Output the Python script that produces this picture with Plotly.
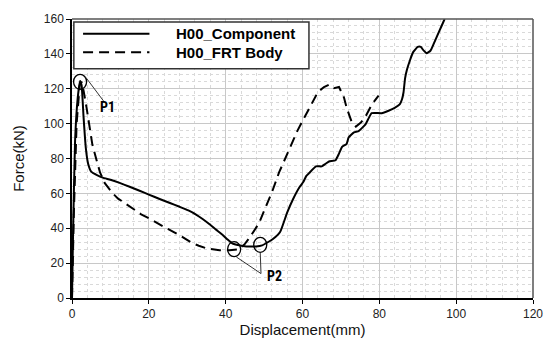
import plotly.graph_objects as go

# ---------------- data ----------------
comp_x = [0, 0.3, 0.8, 1.5, 2.1, 2.5, 3.0, 3.6, 4.2, 5, 6.5, 8, 10, 12.4, 15, 17.6, 20, 22.8, 25.5, 28,
          30.3, 32.4, 34, 35.8, 37.5, 39.1, 40.5, 41.7, 43.5, 45.4, 47.9, 49.5, 51.3, 52.3, 54.2, 56,
          57.5, 59.2, 60.2, 61, 61.7, 63.5, 65, 66, 66.9, 68.6, 69.5, 70.3, 71.5, 72, 73.4, 74.6, 76.4,
          77.2, 78, 80.6, 82.4, 84, 85.3, 85.9, 86.3, 86.7, 87.2, 88, 88.8, 90, 90.8, 91.5, 92.3, 93.3,
          94.2, 95, 96.2, 97]
comp_y = [0, 40, 90, 115, 124.5, 122, 104, 86, 77, 72.5, 70.5, 69, 67.8, 66, 63.8, 61.5, 59.3, 56.8,
          54.5, 52.3, 50.2, 47.7, 45.3, 42.3, 39.2, 36.4, 33.5, 31.3, 30.2, 29.6, 29.6, 30.2, 32.4,
          33.8, 38, 49, 56.5, 63.5, 66.5, 70, 71.6, 75.5, 75.5, 77, 78.3, 79, 82.8, 86.7, 88.4, 92,
          95, 95.7, 99.6, 103, 106, 106, 107.4, 109, 111, 114, 118, 126, 131, 136.5, 141, 144, 144,
          142, 140.4, 141.8, 146, 150, 156, 160]

body_x = [0, 0.5, 1.2, 2.0, 2.5, 3.0, 3.8, 4.5, 5.3, 6.4, 7.3, 8.5, 10.6, 12, 13.3, 15.9, 18, 20.2,
          22.5, 24.6, 28, 31.4, 33, 35, 38.4, 41, 43.5, 45, 46.2, 47.5, 48.7, 50, 51.2, 52.1, 53.9,
          55.7, 57.3, 58.7, 60, 61.7, 63.5, 64.5, 65.6, 66.9, 67.6, 68.2, 69.5, 70.2, 70.8, 71.5,
          72.2, 72.8, 73.9, 75.2, 76.4, 78, 79.8]
body_y = [0, 50, 100, 122, 124, 119, 109, 98, 88, 79, 72, 66, 60, 57, 55, 51, 48, 45.5, 42.5, 40, 36,
          31.3, 30, 28.5, 27.4, 27.4, 28, 31, 34.5, 39, 43, 50, 56, 61, 72, 81, 90, 96, 101.5, 109,
          116, 119, 121, 122.3, 121, 120.3, 121, 118, 115, 109, 104.5, 101, 98.3, 100.6, 104, 110.8,
          116]

series_names = ["H00_Component", "H00_FRT Body"]

p1_point = (2.1, 124)
p2_points = [(42.2, 28), (49.0, 30.5)]
p1_label = (9.2, 109.5)
p2_label = (52.8, 12.5)

x_ticks = [0, 20, 40, 60, 80, 100, 120]
y_ticks = [0, 20, 40, 60, 80, 100, 120, 140, 160]

# ---------------- figure ----------------
fig = go.Figure()
fig.add_trace(go.Scatter(x=comp_x, y=comp_y, mode="lines", name=series_names[0],
                         line=dict(color="black", width=2, shape="spline", smoothing=0.4),
                         showlegend=False))
fig.add_trace(go.Scatter(x=body_x, y=body_y, mode="lines", name=series_names[1],
                         line=dict(color="black", width=2, dash="10px,6px"), showlegend=False))

FONT = "Liberation Sans, Arial, sans-serif"
TICKFONT = dict(family=FONT, size=12, color="#222")
TITLEFONT = dict(family=FONT, size=15, color="#111")

fig.update_layout(
    width=555, height=348,
    margin=dict(l=72, r=20, t=12, b=50),
    plot_bgcolor="white", paper_bgcolor="white",
    xaxis=dict(range=[0, 120], tickvals=x_ticks, showgrid=True, gridcolor="#c8c8c8", gridwidth=1,
               minor=dict(dtick=4, showgrid=True, griddash="dot", gridcolor="#d9d9d9", gridwidth=1),
               showline=True, linecolor="black", linewidth=1.5, mirror=False,
               ticks="outside", ticklen=4, tickcolor="black", tickfont=TICKFONT,
               zeroline=False,
               title=dict(text="Displacement(mm)", font=TITLEFONT, standoff=4)),
    yaxis=dict(range=[0, 160], tickvals=y_ticks, showgrid=True, gridcolor="#c8c8c8", gridwidth=1,
               minor=dict(dtick=4, showgrid=True, griddash="dot", gridcolor="#d9d9d9", gridwidth=1),
               showline=True, linecolor="black", linewidth=1.5, mirror=False,
               ticks="outside", ticklen=4, tickcolor="black", tickfont=TICKFONT,
               zeroline=False,
               title=dict(text="Force(kN)", font=TITLEFONT, standoff=16)),
)

shapes = []
# top and right frame
shapes.append(dict(type="line", xref="paper", yref="paper", x0=0, x1=1, y0=1, y1=1,
                   line=dict(color="#555", width=1.5)))
shapes.append(dict(type="line", xref="paper", yref="paper", x0=1, x1=1, y0=0, y1=1,
                   line=dict(color="#555", width=1.5)))

# legend box
shapes.append(dict(type="rect", xref="paper", yref="paper", x0=0.004, x1=0.514, y0=0.822, y1=0.9895,
                   line=dict(color="#333", width=1.5), fillcolor="white", layer="above"))
leg_rows = [0.947, 0.881]
leg_dash = ["solid", "10px,6px"]
for yy, dsh, nm in zip(leg_rows, leg_dash, series_names):
    shapes.append(dict(type="line", xref="paper", yref="paper", x0=0.024, x1=0.168, y0=yy, y1=yy,
                       line=dict(color="black", width=2, dash=dsh), layer="above"))
    fig.add_annotation(xref="paper", yref="paper", x=0.222, y=yy, text=nm, showarrow=False,
                       xanchor="left", yanchor="middle",
                       font=dict(family=FONT, size=15, color="black", weight="bold"))

# circles
rx, ry = 1.7, 4.3
for (cx, cy) in [p1_point] + p2_points:
    shapes.append(dict(type="circle", xref="x", yref="y", x0=cx - rx, x1=cx + rx, y0=cy - ry, y1=cy + ry,
                       line=dict(color="black", width=1.3)))
# leader lines
shapes.append(dict(type="line", xref="x", yref="y", x0=p1_point[0] + 1.5, y0=p1_point[1] + 2.5,
                   x1=p1_label[0] - 1.0, y1=p1_label[1] + 3.5, line=dict(color="#333", width=1)))
shapes.append(dict(type="line", xref="x", yref="y", x0=p2_points[0][0] + 0.6, y0=p2_points[0][1] - 4.5,
                   x1=p2_label[0] - 3.6, y1=p2_label[1] + 1.5, line=dict(color="#333", width=1)))
shapes.append(dict(type="line", xref="x", yref="y", x0=p2_points[1][0], y0=p2_points[1][1] - 4.5,
                   x1=p2_label[0] - 3.6, y1=p2_label[1] + 1.5, line=dict(color="#333", width=1)))
fig.update_layout(shapes=shapes)

LBL = dict(family="Liberation Sans Narrow, Roboto Condensed, Liberation Sans", size=14,
           color="black", weight="bold")
fig.add_annotation(x=p1_label[0], y=p1_label[1], text="P1", showarrow=False, font=LBL)
fig.add_annotation(x=p2_label[0], y=p2_label[1], text="P2", showarrow=False, font=LBL)

fig.write_html("out.html")
